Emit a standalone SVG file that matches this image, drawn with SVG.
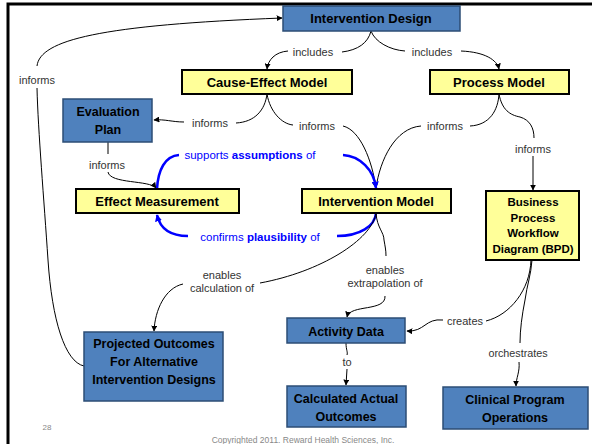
<svg xmlns="http://www.w3.org/2000/svg" width="592" height="444" viewBox="0 0 592 444">
<defs>
<marker id="ah" viewBox="0 0 10 10" refX="9" refY="5" markerWidth="6" markerHeight="6" orient="auto" markerUnits="userSpaceOnUse"><path d="M0,0 L10,5 L0,10 z" fill="#000"/></marker>
<marker id="ahb" viewBox="0 0 10 10" refX="9" refY="5" markerWidth="7" markerHeight="7" orient="auto" markerUnits="userSpaceOnUse"><path d="M0,0 L10,5 L0,10 z" fill="#0000ff"/></marker>
<style>
.blue rect{fill:#4f81bd;stroke:#2c4d75;stroke-width:1.5}
.yel rect{fill:#ffff99;stroke:#000;stroke-width:2}
.bt{font-family:"Liberation Sans",Arial,sans-serif;font-weight:bold;font-size:12.5px;fill:#000;text-anchor:middle}
.yt{font-family:"Liberation Sans",Arial,sans-serif;font-weight:bold;font-size:13px;fill:#000;text-anchor:middle}
.lb{font-family:"Liberation Sans",Arial,sans-serif;font-size:11px;fill:#333;text-anchor:middle}
.bl{font-family:"Liberation Sans",Arial,sans-serif;font-size:11.5px;fill:#0000ff;text-anchor:middle}
.c{fill:none;stroke:#000;stroke-width:1}
.cb{fill:none;stroke:#0000ff;stroke-width:2.5}
</style>
</defs>
<rect width="592" height="444" fill="#fff"/>
<path d="M8,444 L8,4 L592,4" fill="none" stroke="#000" stroke-width="3"/>

<g id="connectors">
<path class="c" d="M342,52 C358,50 368,43 371,31"/>
<path class="c" d="M288,51 C275,52 268,60 267,69" marker-end="url(#ah)"/>
<path class="c" d="M371,31 C375,42 390,50 405,51"/>
<path class="c" d="M461,51 C485,52 497,60 499,69" marker-end="url(#ah)"/>
<path class="c" d="M267,94 C265,110 255,122 236,123"/>
<path class="c" d="M184,122 C172,122 165,119 154,120" marker-end="url(#ah)"/>
<path class="c" d="M267,94 C270,112 282,124 293,125"/>
<path class="c" d="M343,126 C360,130 372,160 376,188" marker-end="url(#ah)"/>
<path class="c" d="M421,126 C395,128 380,160 376,188"/>
<path class="c" d="M470,126 C490,125 498,110 499,94"/>
<path class="c" d="M499,94 C502,110 510,115 520,117 C530,120 534,128 534,138"/>
<path class="c" d="M533,156 L533,190" marker-end="url(#ah)"/>
<path class="c" d="M108,142 L108,154"/>
<path class="c" d="M108,172 C110,184 150,180 156,188" marker-end="url(#ah)"/>
<path class="cb" d="M179,155 C165,156 158,170 157,189"/>
<path class="cb" d="M343,155 C360,156 374,170 376,188" marker-end="url(#ahb)"/>
<path class="cb" d="M337,236 C360,236 375,226 376,213"/>
<path class="cb" d="M188,236 C170,236 160,228 157,215" marker-end="url(#ahb)"/>
<path class="c" d="M376,213 C372,240 320,272 260,283"/>
<path class="c" d="M183,284 C165,288 155,310 154,331" marker-end="url(#ah)"/>
<path class="c" d="M376,213 C377,228 384,232 384,240 C385,246 386,250 386,256"/>
<path class="c" d="M385,296 C386,312 350,304 347,317" marker-end="url(#ah)"/>
<path class="c" d="M531,260 C530,290 510,315 486,321"/>
<path class="c" d="M443,320 C425,318 425,332 407,331" marker-end="url(#ah)"/>
<path class="c" d="M532,260 C531,275 527,285 525,300 C522,315 520,330 520,343"/>
<path class="c" d="M519,362 C520,372 516,378 516,386" marker-end="url(#ah)"/>
<path class="c" d="M346,343 C346,350 348,352 347,355"/>
<path class="c" d="M347,369 L346,385" marker-end="url(#ah)"/>
<path class="c" d="M84,366 C65,362 52,320 48,260 C44,200 38,130 37,88"/>
<path class="c" d="M37,66 C40,40 100,25 282,18" marker-end="url(#ah)"/>
</g>

<g id="labels">
<text class="lb" x="313" y="56">includes</text>
<text class="lb" x="432" y="56">includes</text>
<text class="lb" x="210" y="127">informs</text>
<text class="lb" x="317" y="130">informs</text>
<text class="lb" x="445" y="130">informs</text>
<text class="lb" x="533" y="153">informs</text>
<text class="lb" x="107" y="169">informs</text>
<text class="lb" x="37" y="84">informs</text>
<text class="bl" x="250" y="159">supports <tspan font-weight="bold">assumptions</tspan> of</text>
<text class="bl" x="260" y="241">confirms <tspan font-weight="bold">plausibility</tspan> of</text>
<text class="lb" x="222" y="279">enables</text>
<text class="lb" x="222" y="292">calculation of</text>
<text class="lb" x="385" y="274">enables</text>
<text class="lb" x="385" y="287">extrapolation of</text>
<text class="lb" x="465" y="325">creates</text>
<text class="lb" x="518" y="357" style="font-size:10.75px">orchestrates</text>
<text class="lb" x="347" y="366">to</text>
</g>

<g id="intervention-design" class="blue"><rect x="283" y="6" width="177" height="25"/><text class="yt" x="371" y="23">Intervention Design</text></g>
<g id="cause-effect-model" class="yel"><rect x="182" y="70" width="170" height="24"/><text class="yt" x="267" y="87">Cause-Effect Model</text></g>
<g id="process-model" class="yel"><rect x="430" y="70" width="139" height="24"/><text class="yt" x="499" y="87">Process Model</text></g>
<g id="evaluation-plan" class="blue"><rect x="63" y="99" width="89" height="43"/><text class="bt" x="108" y="116">Evaluation</text><text class="bt" x="108" y="134">Plan</text></g>
<g id="effect-measurement" class="yel"><rect x="76" y="189" width="163" height="24"/><text class="yt" x="157" y="206">Effect Measurement</text></g>
<g id="intervention-model" class="yel"><rect x="302" y="189" width="149" height="24"/><text class="yt" x="376" y="206">Intervention Model</text></g>
<g id="bpd" class="yel"><rect x="486" y="191" width="93" height="69"/>
<text class="bt" x="533" y="206" style="font-size:11.5px">Business</text>
<text class="bt" x="533" y="222" style="font-size:11.5px">Process</text>
<text class="bt" x="533" y="237" style="font-size:11.5px">Workflow</text>
<text class="bt" x="533" y="253" style="font-size:11.5px">Diagram (BPD)</text></g>
<g id="projected-outcomes" class="blue"><rect x="84" y="332" width="139" height="69"/>
<text class="bt" x="154" y="348">Projected Outcomes</text>
<text class="bt" x="154" y="366">For Alternative</text>
<text class="bt" x="154" y="384">Intervention Designs</text></g>
<g id="activity-data" class="blue"><rect x="287" y="318" width="118" height="25"/><text class="bt" x="346" y="336">Activity Data</text></g>
<g id="calculated-actual-outcomes" class="blue"><rect x="287" y="386" width="119" height="41"/><text class="bt" x="346" y="403">Calculated Actual</text><text class="bt" x="346" y="421">Outcomes</text></g>
<g id="clinical-program-operations" class="blue"><rect x="443" y="387" width="145" height="42"/><text class="bt" x="515" y="404">Clinical Program</text><text class="bt" x="515" y="422">Operations</text></g>

<text x="47" y="430" style="font-family:'Liberation Sans',Arial,sans-serif;font-size:8px;fill:#888;text-anchor:middle">28</text>
<text x="303" y="443" style="font-family:'Liberation Sans',Arial,sans-serif;font-size:8.5px;fill:#888;text-anchor:middle">Copyrighted 2011. Reward Health Sciences, Inc.</text>
</svg>
